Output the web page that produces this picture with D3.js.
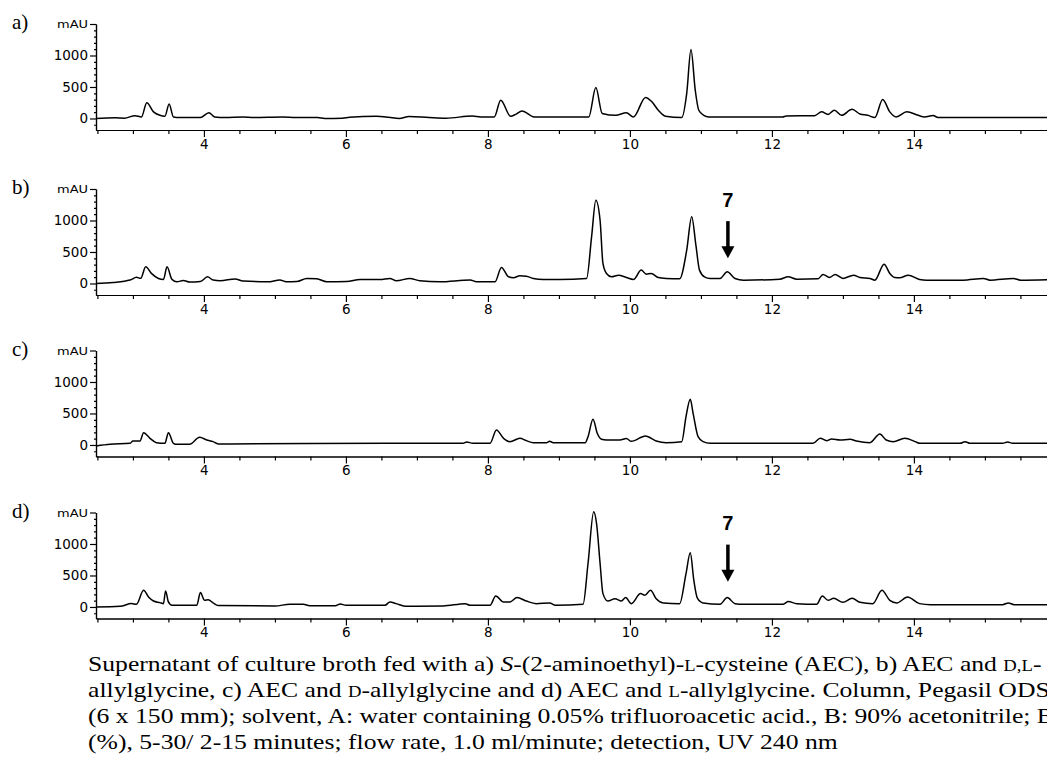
<!DOCTYPE html>
<html>
<head>
<meta charset="utf-8">
<script src="https://cdn.jsdelivr.net/npm/d3@7"></script>
<style>
  body { margin: 0; background: #fff; }
  svg { display: block; }
</style>
</head>
<body>
<svg id="chart" width="1047" height="772"></svg>
<script>
// chromatogram traces: [retention time (min), absorbance (mAU)]
var traceA = [
  [2.48, 0], [2.75, 10], [2.88, 5], [3.03, 45], [3.12, 25], [3.195, 250], [3.29, 105], [3.38, 50],
  [3.45, 35], [3.51, 230], [3.57, 25], [3.66, 15], [3.95, 15], [4.07, 90], [4.15, 25], [4.3, 15],
  [4.55, 22], [4.7, 15], [5.1, 22], [5.3, 15], [5.6, 15], [5.7, 0], [5.95, 5], [6.05, 20], [6.43, 35],
  [6.6, 20], [6.75, 0], [6.89, 30], [7.17, 15], [7.41, 5], [7.78, 38], [7.9, 25], [8.09, 25],
  [8.18, 290], [8.32, 35], [8.39, 65], [8.48, 120], [8.65, 25], [9.42, 25], [9.52, 490], [9.61, 80],
  [9.80, 50], [9.95, 90], [10.05, 25], [10.22, 335], [10.31, 265], [10.40, 130], [10.50, 35],
  [10.73, 15], [10.80, 400], [10.86, 1095], [10.92, 450], [10.97, 130], [11.04, 50], [11.11, 25],
  [12.15, 22], [12.2, 40], [12.6, 45], [12.70, 105], [12.79, 65], [12.88, 130], [12.98, 50],
  [13.13, 145], [13.24, 70], [13.35, 50], [13.45, 15], [13.56, 300], [13.66, 105], [13.75, 25],
  [13.90, 105], [14.06, 50], [14.15, 25], [14.27, 48], [14.34, 15], [16, 15]
];

var traceB = [
  [2.48, 0], [2.72, 16], [2.96, 54], [3.05, 97], [3.11, 81], [3.18, 265], [3.26, 160], [3.36, 80],
  [3.43, 65], [3.48, 265], [3.55, 65], [3.62, 27], [3.71, 48], [3.80, 22], [3.95, 30], [4.05, 105],
  [4.13, 54], [4.23, 43], [4.44, 72], [4.55, 38], [4.9, 27], [5.07, 54], [5.16, 27], [5.31, 32],
  [5.45, 80], [5.59, 75], [5.73, 27], [6.01, 30], [6.20, 62], [6.48, 62], [6.62, 80], [6.71, 43],
  [6.90, 80], [7.04, 43], [7.32, 27], [7.75, 54], [7.84, 27], [8.10, 27], [8.19, 255], [8.29, 106],
  [8.36, 90], [8.45, 122], [8.54, 116], [8.64, 80], [8.78, 64], [9.01, 64], [9.39, 80], [9.46, 740],
  [9.52, 1320], [9.58, 1000], [9.62, 318], [9.67, 158], [9.74, 106], [9.84, 132], [9.95, 95],
  [10.05, 64], [10.16, 212], [10.23, 148], [10.30, 158], [10.40, 95], [10.51, 80], [10.70, 74],
  [10.80, 530], [10.87, 1060], [10.93, 600], [10.98, 212], [11.05, 106], [11.13, 80], [11.27, 80],
  [11.37, 185], [11.48, 80], [11.60, 53], [12.11, 68], [12.23, 106], [12.35, 69], [12.65, 74],
  [12.72, 143], [12.81, 95], [12.89, 143], [13.0, 80], [13.15, 132], [13.24, 95], [13.38, 80],
  [13.45, 53], [13.58, 307], [13.66, 158], [13.73, 95], [13.80, 90], [13.92, 132], [14.08, 64],
  [14.18, 53], [14.69, 53], [14.98, 80], [15.07, 53], [15.40, 80], [15.5, 53], [16, 64]
];

var traceC = [
  [2.48, -16], [2.68, 10], [2.96, 27], [3.0, 64], [3.1, 64], [3.15, 195], [3.24, 106], [3.33, 37],
  [3.45, 27], [3.50, 195], [3.57, 27], [3.62, 10], [3.80, 12], [3.94, 122], [4.04, 79], [4.13, 53],
  [4.2, 16], [6.76, 27], [7.65, 27], [7.70, 48], [7.79, 27], [8.03, 27], [8.12, 238], [8.22, 106],
  [8.31, 53], [8.45, 106], [8.54, 69], [8.64, 37], [8.83, 37], [8.87, 58], [8.92, 37], [9.37, 37],
  [9.41, 132], [9.48, 408], [9.54, 186], [9.60, 90], [9.67, 79], [9.86, 79], [9.95, 101], [10.02, 58],
  [10.22, 143], [10.37, 64], [10.51, 37], [10.73, 53], [10.79, 450], [10.85, 725], [10.89, 503],
  [10.96, 132], [11.03, 53], [11.13, 27], [12.58, 27], [12.68, 106], [12.77, 69], [12.84, 95],
  [12.96, 79], [13.10, 90], [13.19, 64], [13.38, 37], [13.52, 174], [13.61, 79], [13.71, 53],
  [13.87, 106], [14.04, 42], [14.08, 27], [14.65, 27], [14.72, 53], [14.79, 27], [15.25, 27],
  [15.32, 48], [15.39, 27], [16, 27]
];

var traceD = [
  [2.48, 0], [2.82, 11], [2.98, 54], [3.05, 43], [3.15, 265], [3.22, 158], [3.29, 95], [3.38, 69],
  [3.43, 53], [3.46, 255], [3.50, 80], [3.55, 27], [3.90, 27], [3.95, 228], [4.01, 106], [4.06, 116],
  [4.13, 64], [4.20, 22], [5.0, 16], [5.21, 43], [5.40, 43], [5.49, 20], [5.85, 20], [5.92, 48],
  [6.0, 27], [6.55, 27], [6.62, 80], [6.71, 53], [6.85, 11], [7.37, 16], [7.68, 53], [7.75, 27],
  [8.03, 27], [8.11, 175], [8.22, 80], [8.31, 80], [8.41, 149], [8.54, 95], [8.68, 53], [8.87, 64],
  [8.95, 27], [9.34, 43], [9.41, 690], [9.49, 1510], [9.53, 1325], [9.58, 690], [9.62, 212],
  [9.69, 95], [9.79, 132], [9.88, 95], [9.94, 149], [10.02, 53], [10.15, 212], [10.21, 185],
  [10.29, 265], [10.37, 132], [10.47, 64], [10.70, 53], [10.79, 530], [10.85, 860], [10.90, 425],
  [10.95, 140], [11.03, 64], [11.27, 43], [11.37, 149], [11.48, 53], [11.60, 43], [12.16, 43],
  [12.23, 85], [12.35, 53], [12.63, 43], [12.71, 175], [12.79, 106], [12.87, 138], [13.0, 74],
  [13.13, 138], [13.24, 74], [13.42, 53], [13.55, 265], [13.66, 106], [13.76, 64], [13.91, 158],
  [14.08, 53], [14.23, 37], [15.25, 37], [15.33, 64], [15.41, 37], [16, 37]
];

var panelLabels = ["a)", "b)", "c)", "d)"];
var traces = [traceA, traceB, traceC, traceD];

var xMajorTicks = [4, 6, 8, 10, 12, 14];
var yTicks = [0, 500, 1000, 1500];
var yUnit = "mAU";

// peak 7 marked with an arrow in b) and d)
var markedPeaks = [
  {panel: 1, time: 11.38, label: "7"},
  {panel: 3, time: 11.38, label: "7"}
];

// caption, one array per line: [text, style]  (sc = small caps, i = italic)
var captionLines = [
  [["Supernatant of culture broth fed with a) ", ""], ["S", "i"], ["-(2-aminoethyl)-", ""], ["L", "sc"],
   ["-cysteine (AEC), b) AEC and ", ""], ["D,L", "sc"], ["-", ""]],
  [["allylglycine, c) AEC and ", ""], ["D", "sc"], ["-allylglycine and d) AEC and ", ""], ["L", "sc"],
   ["-allylglycine. Column, Pegasil ODS", ""]],
  [["(6 x 150 mm); solvent, A: water containing 0.05% trifluoroacetic acid., B: 90% acetonitrile; B", ""]],
  [["(%), 5-30/ 2-15 minutes; flow rate, 1.0 ml/minute; detection, UV 240 nm", ""]]
];

// layout
var zeroY = [118.5, 283.5, 445, 607];   // pixel row of 0 mAU in each panel
var axisLeft = 96;
var pxPerMin = 71;

var svg = d3.select("#chart");

var x = d3.scaleLinear()
  .domain([2.48, 16])
  .range([axisLeft, axisLeft + (16 - 2.48) * pxPerMin]);

var line = d3.line()
  .x(function(d) { return x(d[0]); })
  .curve(d3.curveMonotoneX);

function drawPanel(i) {
  var z = zeroY[i];
  var y = d3.scaleLinear().domain([-183, 1500]).range([z + 11.5, z - 94.5]);
  var g = svg.append("g").attr("class", "panel");

  // x axis, minor ticks every 0.5 min then the labelled ones
  var minor = d3.range(2.5, 16.01, 0.5).filter(function(t) { return xMajorTicks.indexOf(t) < 0; });
  g.append("g")
    .attr("transform", "translate(0," + y(-183) + ")")
    .call(d3.axisBottom(x).tickValues(minor).tickSize(4).tickSizeOuter(0).tickFormat(""));
  g.append("g")
    .attr("class", "xmajor")
    .attr("transform", "translate(0," + y(-183) + ")")
    .call(d3.axisBottom(x).tickValues(xMajorTicks).tickSize(7).tickSizeOuter(0).tickPadding(2));

  // y axis
  var yMinor = d3.range(-100, 1500, 100).filter(function(v) { return yTicks.indexOf(v) < 0; });
  g.append("g")
    .attr("transform", "translate(" + axisLeft + ",0)")
    .call(d3.axisLeft(y).tickValues(yMinor).tickSize(2).tickSizeOuter(0).tickFormat(""));
  g.append("g")
    .attr("class", "ymajor")
    .attr("transform", "translate(" + axisLeft + ",0)")
    .call(d3.axisLeft(y).tickValues(yTicks).tickSize(6).tickSizeOuter(0).tickPadding(2)
      .tickFormat(function(v) { return v === 1500 ? yUnit : v; }));

  g.selectAll(".domain, .tick line").attr("stroke", "#000").attr("stroke-width", 1.2);
  g.selectAll(".tick text")
    .attr("fill", "#000")
    .style("font-family", "'DejaVu Sans', sans-serif")
    .style("font-size", "13.5px");
  g.selectAll(".ymajor .tick text")
    .filter(function(v) { return v === 1500; })
    .style("font-size", "11px")
    .attr("textLength", 31)
    .attr("lengthAdjust", "spacingAndGlyphs");

  // trace
  line.y(function(d) { return y(d[1]); });
  g.append("path")
    .datum(traces[i])
    .attr("d", line)
    .attr("fill", "none")
    .attr("stroke", "#000")
    .attr("stroke-width", 1.5)
    .attr("stroke-linejoin", "round");

  // panel letter
  g.append("text")
    .attr("x", 12)
    .attr("y", y(1500) + 5)
    .style("font-family", "'Liberation Serif', 'Times New Roman', serif")
    .style("font-size", "21px")
    .text(panelLabels[i]);

  // arrows
  markedPeaks.filter(function(m) { return m.panel === i; }).forEach(function(m) {
    var ax = x(m.time);
    g.append("text")
      .attr("x", ax)
      .attr("y", y(1215))
      .attr("text-anchor", "middle")
      .style("font-family", "'Liberation Sans', Arial, sans-serif")
      .style("font-weight", "bold")
      .style("font-size", "20px")
      .text(m.label);
    g.append("line")
      .attr("x1", ax).attr("x2", ax)
      .attr("y1", y(990)).attr("y2", y(560))
      .attr("stroke", "#000")
      .attr("stroke-width", 3.5);
    g.append("path")
      .attr("d", "M" + (ax - 6.5) + "," + y(590) + "L" + (ax + 6.5) + "," + y(590) + "L" + ax + "," + y(400) + "Z")
      .attr("fill", "#000");
  });
}

for (var p = 0; p < traces.length; p++) {
  drawPanel(p);
}

// caption
var cap = svg.append("g")
  .style("font-family", "'Liberation Serif', 'Times New Roman', serif")
  .style("font-size", "22px");

var capBase = [671, 697, 723, 749];
var capTexts = [];
captionLines.forEach(function(parts, k) {
  var t = cap.append("text").attr("x", 0).attr("y", capBase[k]);
  parts.forEach(function(part) {
    var ts = t.append("tspan").text(part[0]);
    if (part[1] === "i") ts.style("font-style", "italic");
    if (part[1] === "sc") ts.style("font-size", "16px");
  });
  capTexts.push(t);
});

// the scanned caption is condensed: fit the last (complete) line to its width
var lastLen = capTexts[3].node().getComputedTextLength();
var sx = 750 / lastLen;
cap.attr("transform", "translate(88,0) scale(" + sx + ",1)");
</script>
</body>
</html>
